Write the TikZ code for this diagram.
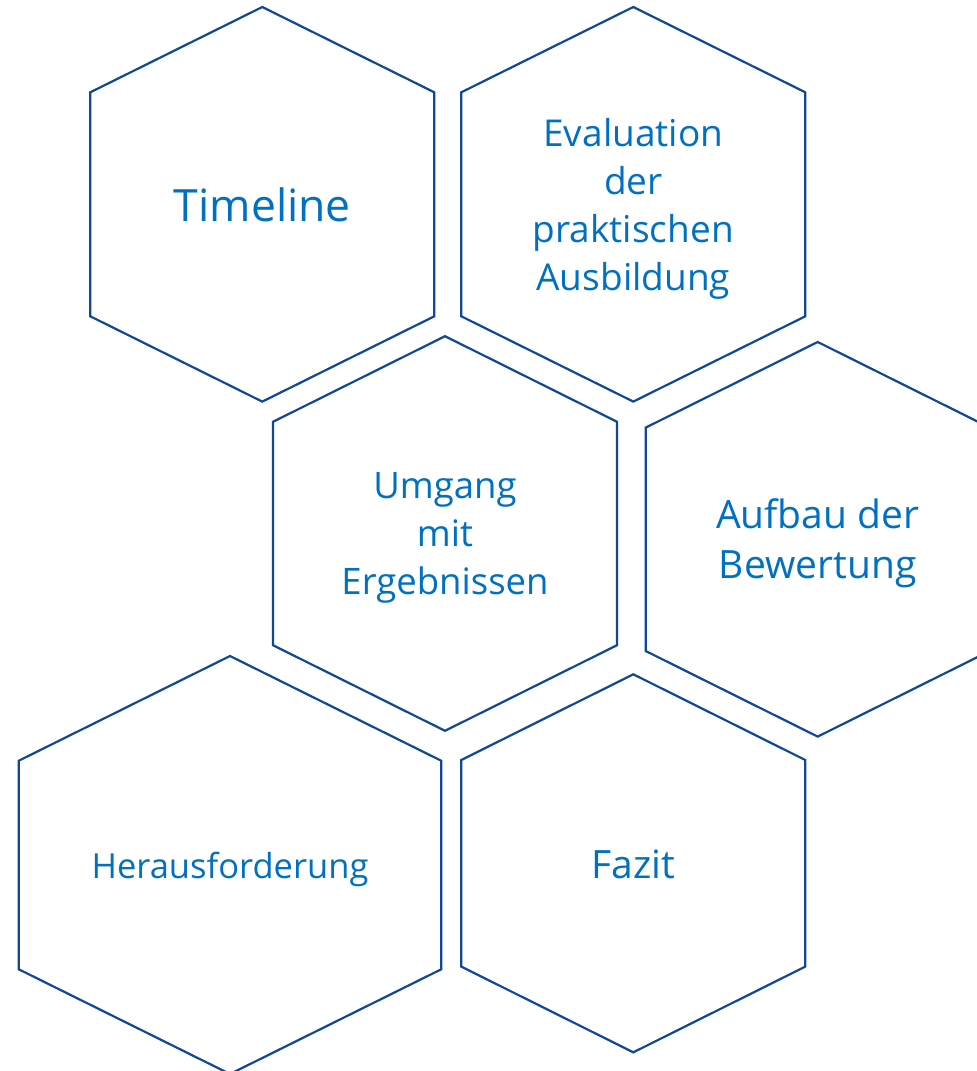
\documentclass[tikz,border=0pt]{standalone}
\usepackage{xcolor}
\usepackage{fontspec}
\setmainfont{Open Sans}
\definecolor{hexborder}{RGB}{16,72,148}
\definecolor{hextext}{RGB}{0,112,192}
\tikzstyle{hexline}=[draw=hexborder, line width=2.2pt, line join=miter]
\tikzset{topic/.style={text=hextext, align=center, inner sep=0pt, yshift=-4pt}}
%% hexagon round a centre: centre, half width, half height, rise of the sides
\newcommand{\hexcell}[4]{%
  \draw[hexline] ([shift={(-#2,-#4)}]#1) -- ([shift={(0,-#3)}]#1)
    -- ([shift={(#2,-#4)}]#1) -- ([shift={(#2,#4)}]#1)
    -- ([shift={(0,#3)}]#1) -- ([shift={(-#2,#4)}]#1) -- cycle;}

\begin{document}
\begin{tikzpicture}[x=1pt,y=-1pt]
  \clip (0,0) rectangle (977,1071);
  \fill[white] (0,0) rectangle (977,1071);

  \coordinate (C1) at (262.3,204.3);
  \coordinate (C2) at (633.3,204.3);
  \coordinate (C3) at (445,533.5);
  \coordinate (C4) at (817.7,539.3);
  \coordinate (C5) at (230,865);
  \coordinate (C6) at (633.3,863.3);

  \hexcell{C1}{172}{197.3}{112}
  \hexcell{C2}{172}{197.3}{112}
  \hexcell{C3}{172}{197.3}{111.7}
  \hexcell{C4}{172}{197.3}{111.7}
  \hexcell{C5}{211.2}{209}{104.3}
  \hexcell{C6}{172}{189}{103.3}

  \draw (C1) node[topic,yshift=3pt,font=\fontsize{44.5}{52}\selectfont] (timeline) {Timeline};
  \draw (C2) node[topic,yshift=-1pt,font=\fontsize{37}{48}\selectfont] (evaluation) {Evaluation\\der\\praktischen\\Ausbildung};
  \draw (C3) node[topic,font=\fontsize{36.5}{48}\selectfont] (umgang) {Umgang\\mit\\Ergebnissen};
  \draw (C4) node[topic,font=\fontsize{39}{50.5}\selectfont] (aufbau) {Aufbau der\\Bewertung};
  \draw (C5) node[topic,font=\fontsize{34.5}{40}\selectfont] (herausforderung) {Herausforderung};
  \draw (C6) node[topic,yshift=3pt,font=\fontsize{39}{48}\selectfont] (fazit) {Fazit};
\end{tikzpicture}
\end{document}
